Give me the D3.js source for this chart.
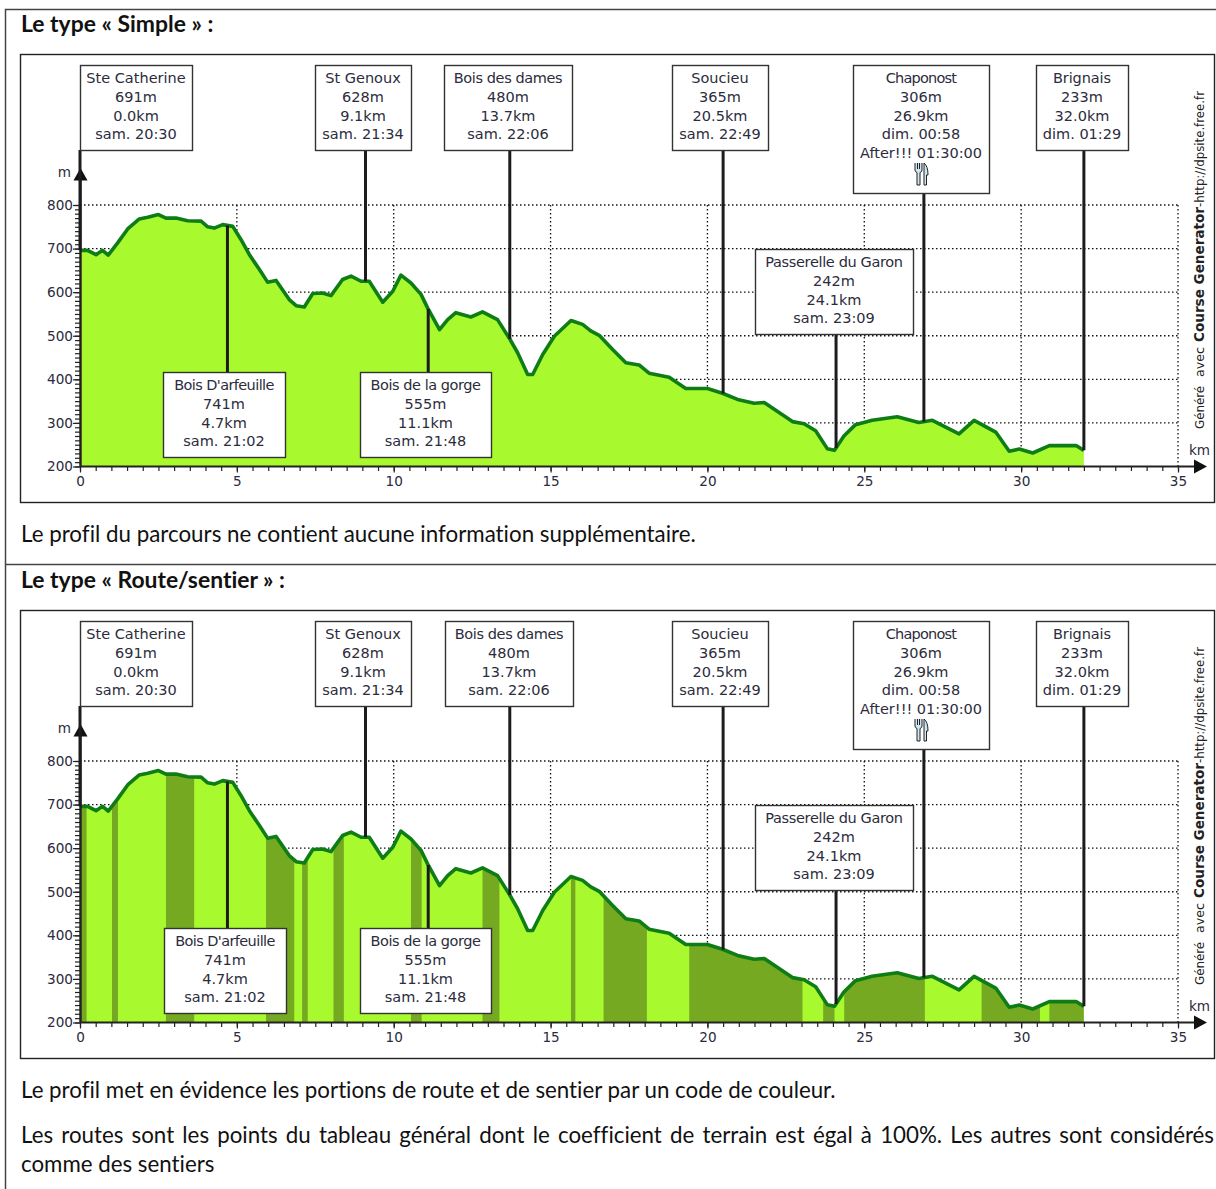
<!DOCTYPE html>
<html>
<head>
<meta charset="utf-8">
<script src="https://cdn.jsdelivr.net/npm/d3@7"></script>
<style>
  html, body { margin: 0; padding: 0; background: #fff; }
  svg { display: block; }
  .doc { font-family: Lato, "Open Sans", sans-serif; fill: #111; font-variant-ligatures: none; }
  .chartText { font-family: "DejaVu Sans", sans-serif; font-size: 13.6px; fill: #2c2c3c; }
  .boxText { font-family: "DejaVu Sans", sans-serif; font-size: 14.5px; fill: #2c2c3c; }
  .axis text { font-family: "DejaVu Sans", sans-serif; font-size: 13.6px; fill: #2c2c3c; }
  .axis path, .axis line { stroke: #222; stroke-width: 1.2px; }
</style>
</head>
<body>
<svg id="page" width="1216" height="1189"></svg>
<script>
// elevation profile
const profileKm = [0,0.24,0.51,0.72,0.9,1.2,1.52,1.89,2.16,2.5,2.74,3.06,3.43,3.86,4.07,4.28,4.55,4.87,5.13,5.4,5.72,5.98,6.25,6.67,6.89,7.15,7.42,7.73,8.0,8.37,8.64,8.96,9.22,9.65,9.97,10.23,10.55,10.87,11.08,11.46,11.72,11.98,12.46,12.83,13.31,13.68,13.95,14.27,14.43,14.75,15.12,15.65,16.02,16.28,16.55,16.97,17.4,17.82,18.14,18.78,19.31,20,20.48,20.96,21.49,21.81,22.71,23.08,23.45,23.82,24.05,24.35,24.72,25.25,26.05,26.74,27.17,28.02,28.5,29.19,29.62,29.94,30.37,30.9,31.75,32.0];
const profileElev = [696,696,686,696,685,713,745,768,772,778,770,770,764,763,750,747,755,751,721,686,652,623,627,583,569,566,597,598,592,629,637,625,625,577,602,639,621,595,564,514,537,553,543,555,537,495,461,411,411,457,499,535,526,511,501,469,438,433,414,405,379,379,368,354,345,347,303,298,282,241,237,270,296,306,314,301,306,275,306,279,235,240,231,248,248,237];

// road portions (second chart only)
const roadStart = [0,1.02,2.74,5.93,7.08,8.08,10.55,12.83,15.65,16.69,19.42,23.69,24.36,28.74,30.9];
const roadEnd   = [0.21,1.21,3.64,6.83,7.26,8.41,10.89,13.37,15.79,18.07,23.03,24.05,26.93,30.6,32.0];

// waypoints
const markerName = ["Ste Catherine","Bois D'arfeuille","St Genoux","Bois de la gorge","Bois des dames","Soucieu","Passerelle du Garon","Chaponost","Brignais"];
const markerElev = [691,741,628,555,480,365,242,306,233];
const markerKm   = [0,4.7,9.1,11.1,13.7,20.5,24.1,26.9,32.0];
const markerTime = ["sam. 20:30","sam. 21:02","sam. 21:34","sam. 21:48","sam. 22:06","sam. 22:49","sam. 23:09","dim. 00:58","dim. 01:29"];
const markerNote = ["","","","","","","","After!!! 01:30:00",""];

const kmTicks = [0,5,10,15,20,25,30,35];
const elevTicks = [200,300,400,500,600,700,800];

const titles = ["Le type « Simple » :","Le type « Route/sentier » :"];
const para1 = "Le profil du parcours ne contient aucune information supplémentaire.";
const para2 = "Le profil met en évidence les portions de route et de sentier par un code de couleur.";
const para3a = "Les routes sont les points du tableau général dont le coefficient de terrain est égal à 100%. Les autres sont considérés";
const para3b = "comme des sentiers";

// layout of the label boxes (left, top, width, height), top chart coordinates
const boxLeft   = [80,163,315,360,444,672,755,853,1036];
const boxTop    = [65,372,65,372,65,65,249,65,65];
const boxWidth  = [112,122,96,131,128,96,158,136,92];
const boxHeight = [85,85,85,85,85,85,85,128,85];
// names that sit tighter in the reference
const nameSpacing = [0,-0.6,0,-0.45,-0.4,0,-0.35,-0.8,-0.1];

var svg = d3.select("#page");

var x = d3.scaleLinear().domain([0,35]).range([80,1178]);
var y = d3.scaleLinear().domain([200,800]).range([466.5,205]);

var profile = profileKm.map((km,i) => ({km:km, elev:profileElev[i]}));
var elevAt = d3.scaleLinear().domain(profileKm).range(profileElev);

// page frame
svg.append("path")
    .attr("d","M5.5,1189V9.5H1216M5.5,564.5H1216")
    .attr("fill","none").attr("stroke","#444").attr("stroke-width",1.5);

function drawText(str, px, py, size, bold){
    return svg.append("text").attr("class","doc")
        .attr("x",px).attr("y",py)
        .style("font-size",size+"px")
        .style("font-weight",bold ? "700" : "400")
        .text(str);
}

drawText(titles[0],21,32,22.9,true);
drawText(titles[1],21,588,22.9,true);
drawText(para1,21,541.5,22.35,false);
drawText(para2,21,1097.5,22.3,false);
var just = drawText(para3a,21,1142.5,22.3,false);
// justified line, stretched with the word spacing
var gaps = para3a.split(" ").length - 1;
just.style("word-spacing",((1193 - just.node().getComputedTextLength())/gaps)+"px");
drawText(para3b,21,1171.5,22.3,false);

function drawChart(dy, withRoads, id){
    svg.append("rect")
        .attr("x",20.5).attr("y",54.5+dy).attr("width",1194).attr("height",448)
        .attr("fill","#fff").attr("stroke","#222").attr("stroke-width",1.4);

    var g = svg.append("g").attr("transform","translate(0,"+dy+")");

    // grid
    var dots = "1.5 2.5";
    g.append("g").selectAll("line").data(elevTicks.slice(1)).enter().append("line")
        .attr("x1",x(0)).attr("x2",x(35))
        .attr("y1",d => y(d)).attr("y2",d => y(d))
        .attr("stroke","#111").attr("stroke-width",1.3).attr("stroke-dasharray",dots);
    g.append("g").selectAll("line").data(kmTicks.slice(1)).enter().append("line")
        .attr("x1",d => x(d)).attr("x2",d => x(d))
        .attr("y1",y(800)).attr("y2",y(200))
        .attr("stroke","#111").attr("stroke-width",1.3).attr("stroke-dasharray",dots);

    var area = d3.area().x(d => x(d.km)).y0(y(200)).y1(d => y(d.elev));
    var line = d3.line().x(d => x(d.km)).y(d => y(d.elev));

    g.append("clipPath").attr("id",id).append("path").attr("d",area(profile));
    g.append("path").attr("d",area(profile)).attr("fill","#a9f92f");

    if (withRoads) {
        g.append("g").attr("clip-path","url(#"+id+")")
            .selectAll("rect").data(roadStart).enter().append("rect")
            .attr("x",d => x(d))
            .attr("width",(d,i) => x(roadEnd[i]) - x(d))
            .attr("y",y(800)).attr("height",y(200) - y(800))
            .attr("fill","#76a922");
    }

    g.append("path").attr("d",line(profile))
        .attr("fill","none").attr("stroke","#0f7d16").attr("stroke-width",3.6)
        .attr("stroke-linejoin","round");

    // axes
    var minorElev = d3.range(200,801,10);
    var minorKm = d3.range(0,35.01,0.5);
    g.append("g").attr("class","axis").attr("transform","translate("+x(0)+",0)")
        .call(d3.axisLeft(y).tickValues(minorElev).tickSize(5).tickFormat("").tickSizeOuter(0));
    g.append("g").attr("class","axis").attr("transform","translate("+x(0)+",0)")
        .call(d3.axisLeft(y).tickValues(elevTicks).tickSize(7).tickPadding(0).tickSizeOuter(0))
        .selectAll("path").remove();
    g.append("g").attr("class","axis").attr("transform","translate(0,"+y(200)+")")
        .call(d3.axisBottom(x).tickValues(minorKm).tickSize(4.5).tickFormat("").tickSizeOuter(0))
        .selectAll("path").remove();
    g.append("g").attr("class","axis").attr("transform","translate(0,"+y(200)+")")
        .call(d3.axisBottom(x).tickValues(kmTicks).tickSize(6).tickPadding(4).tickSizeOuter(0))
        .selectAll("path").remove();

    // axis lines with arrows
    g.append("line").attr("x1",x(0)+0.5).attr("x2",x(0)+0.5).attr("y1",y(200)).attr("y2",172)
        .attr("stroke","#222").attr("stroke-width",2.4);
    g.append("line").attr("x1",x(0)).attr("x2",1196).attr("y1",y(200)).attr("y2",y(200))
        .attr("stroke","#222").attr("stroke-width",2);
    g.append("path").attr("d","M"+(x(0)+0.5)+",168L"+(x(0)+7.5)+",180.5H"+(x(0)-6.5)+"Z").attr("fill","#111");
    g.append("path").attr("d","M1207,"+y(200)+"L1194,"+(y(200)-7)+"V"+(y(200)+7)+"Z").attr("fill","#111");
    g.append("text").attr("class","chartText").attr("x",71).attr("y",177).attr("text-anchor","end").text("m");
    g.append("text").attr("class","chartText").attr("x",1189).attr("y",455).text("km");

    // stems then boxes
    markerKm.forEach(function(km,i){
        var below = boxTop[i] > y(elevAt(km));
        g.append("line")
            .attr("x1",x(km)).attr("x2",x(km))
            .attr("y1",y(elevAt(km)))
            .attr("y2",below ? boxTop[i] : boxTop[i]+boxHeight[i])
            .attr("stroke","#1c1c1c").attr("stroke-width",3);
    });

    var left = boxLeft.map((d,i) => (dy && (i==1 || i==4)) ? d+1 : d);
    var box = g.append("g").selectAll("g").data(markerName).enter().append("g")
        .attr("transform",(d,i) => "translate("+left[i]+","+boxTop[i]+")");
    box.append("rect")
        .attr("x",0.5).attr("y",0.5)
        .attr("width",(d,i) => boxWidth[i]).attr("height",(d,i) => boxHeight[i])
        .attr("fill","#fff").attr("stroke","#333").attr("stroke-width",1.4);
    box.each(function(d,i){
        var lines = [d, markerElev[i]+"m", markerKm[i].toFixed(1)+"km", markerTime[i]];
        if (markerNote[i]) lines.push(markerNote[i]);
        d3.select(this).selectAll("text").data(lines).enter().append("text")
            .attr("class","boxText")
            .attr("x",boxWidth[i]/2).attr("y",(t,j) => 18 + j*18.8)
            .attr("text-anchor","middle")
            .style("letter-spacing",(t,j) => j == 0 ? nameSpacing[i]+"px" : null)
            .text(t => t);
        if (markerNote[i]) {
            // fork and knife
            var ic = d3.select(this).append("g").attr("transform","translate("+(boxWidth[i]/2-7)+",98)");
            ic.append("path").attr("d","M1,0V7Q1,9 3,9.5V22H6V9.5Q8,9 8,7V0M3.5,0V6M5.5,0V6")
                .attr("fill","#cfe6f2").attr("stroke","#222").attr("stroke-width",1);
            ic.append("path").attr("d","M10,22V0Q14,3 14,12H12.5V22Z")
                .attr("fill","#cfe6f2").attr("stroke","#222").attr("stroke-width",1);
        }
    });

    // vertical credit
    var credit = [
        {t:"Généré", y0:429, len:43, bold:false, size:12},
        {t:"avec", y0:377, len:30, bold:false, size:12},
        {t:"Course Generator", y0:342, len:135, bold:true, size:13.5},
        {t:"-http://dpsite.free.fr", y0:207, len:116, bold:false, size:12}
    ];
    credit.forEach(function(c){
        g.append("text")
            .attr("transform","translate(1204,"+c.y0+") rotate(-90)")
            .attr("textLength",c.len).attr("lengthAdjust","spacingAndGlyphs")
            .style("font-family","'DejaVu Sans',sans-serif")
            .style("font-size",c.size+"px")
            .style("font-weight",c.bold ? "700" : "400")
            .style("fill","#222")
            .text(c.t);
    });
}

drawChart(0,false,"clipA");
drawChart(556,true,"clipB");
</script>
</body>
</html>
